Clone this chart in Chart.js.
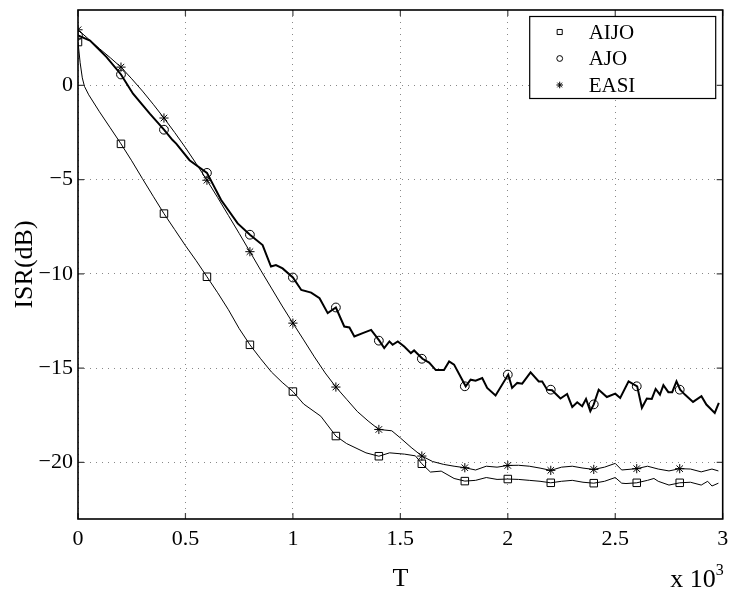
<!DOCTYPE html>
<html>
<head>
<meta charset="utf-8">
<script src="https://cdn.jsdelivr.net/npm/chart.js@4.4.1/dist/chart.umd.min.js"></script>
<style>
  html, body { margin: 0; padding: 0; background: #fff; }
  #wrap { width: 729px; height: 592px; }
</style>
</head>
<body>
<div id="wrap"><canvas id="isrChart"></canvas></div>
<script>
// ISR curves: [T (x10^3), ISR dB]
const aijoCurve = [[0,2.3],[0.01,1.2],[0.02,0.4],[0.03,-0.05],[0.05,-0.5],[0.1,-1.4],[0.15,-2.25],[0.2,-3.1],
  [0.25,-4.0],[0.3,-4.95],[0.35,-5.88],[0.4,-6.8],[0.45,-7.65],[0.5,-8.5],[0.55,-9.3],[0.6,-10.15],
  [0.65,-11.0],[0.7,-11.9],[0.75,-12.9],[0.8,-13.76],[0.85,-14.5],[0.9,-15.2],[0.95,-15.75],[1.0,-16.24],
  [1.05,-16.9],[1.13,-17.55],[1.2,-18.6],[1.25,-19.0],[1.34,-19.49],[1.4,-19.67],[1.45,-19.49],[1.52,-19.56],
  [1.57,-19.65],[1.6,-20.07],[1.64,-20.51],[1.69,-20.46],[1.75,-20.85],[1.8,-20.99],[1.85,-20.95],[1.9,-20.8],
  [1.95,-20.9],[2.0,-20.88],[2.05,-20.9],[2.1,-20.95],[2.15,-21.0],[2.2,-21.08],[2.25,-21.0],[2.3,-20.95],
  [2.35,-21.05],[2.4,-21.1],[2.45,-21.0],[2.5,-20.8],[2.53,-21.1],[2.55,-21.12],[2.6,-21.08],[2.65,-20.95],
  [2.68,-20.85],[2.7,-21.0],[2.75,-21.2],[2.8,-21.08],[2.85,-21.05],[2.9,-21.2],[2.93,-21.0],[2.95,-21.25],[2.98,-21.1]];

const ajoCurve = [[0,2.65],[0.056,2.38],[0.133,1.5],[0.2,0.58],[0.256,-0.44],[0.334,-1.5],[0.4,-2.35],
  [0.44,-2.9],[0.457,-3.09],[0.519,-3.97],[0.6,-4.64],[0.666,-6.08],[0.743,-7.32],[0.8,-7.92],[0.859,-8.47],
  [0.898,-9.61],[0.921,-9.53],[0.952,-9.71],[1.0,-10.19],[1.039,-10.85],[1.085,-10.99],[1.124,-11.29],
  [1.162,-12.08],[1.2,-11.78],[1.239,-12.79],[1.263,-12.84],[1.286,-13.32],[1.325,-13.14],[1.364,-12.97],
  [1.402,-13.54],[1.425,-13.93],[1.449,-13.58],[1.464,-13.76],[1.488,-13.58],[1.518,-13.85],[1.549,-14.2],
  [1.564,-14.06],[1.603,-14.5],[1.634,-14.7],[1.665,-15.1],[1.703,-15.1],[1.727,-14.64],[1.75,-14.81],
  [1.804,-15.96],[1.827,-15.61],[1.85,-15.66],[1.881,-15.52],[1.904,-16.05],[1.943,-16.45],[2.002,-15.34],
  [2.02,-16.05],[2.044,-15.78],[2.067,-15.82],[2.106,-15.22],[2.144,-15.7],[2.16,-15.7],[2.183,-16.14],
  [2.206,-16.17],[2.245,-16.61],[2.276,-16.37],[2.3,-17.06],[2.323,-16.81],[2.346,-17.02],[2.364,-16.63],
  [2.384,-17.28],[2.4,-16.92],[2.423,-16.14],[2.461,-16.53],[2.5,-16.35],[2.523,-16.58],[2.562,-15.7],
  [2.602,-15.96],[2.624,-17.1],[2.647,-16.61],[2.67,-16.63],[2.688,-16.1],[2.708,-16.4],[2.724,-15.9],
  [2.747,-16.27],[2.765,-16.27],[2.785,-15.7],[2.802,-16.14],[2.824,-16.4],[2.862,-16.79],[2.901,-16.49],
  [2.924,-16.93],[2.963,-17.37],[2.982,-16.84]];

const easiCurve = [[0,2.95],[0.05,2.45],[0.1,1.95],[0.15,1.47],[0.2,0.97],[0.25,0.35],[0.3,-0.3],[0.35,-1.0],
  [0.4,-1.73],[0.45,-2.5],[0.5,-3.3],[0.55,-4.15],[0.6,-5.03],[0.65,-5.95],[0.7,-6.9],[0.75,-7.85],[0.8,-8.82],
  [0.85,-9.8],[0.9,-10.75],[0.95,-11.7],[1.0,-12.61],[1.05,-13.5],[1.1,-14.4],[1.15,-15.25],[1.2,-16.0],
  [1.25,-16.65],[1.3,-17.3],[1.35,-17.8],[1.4,-18.25],[1.46,-18.32],[1.5,-18.7],[1.55,-19.2],[1.6,-19.66],
  [1.65,-19.95],[1.7,-20.1],[1.75,-20.2],[1.8,-20.28],[1.85,-20.4],[1.9,-20.2],[1.95,-20.25],[2.0,-20.16],
  [2.05,-20.15],[2.1,-20.2],[2.15,-20.3],[2.2,-20.42],[2.25,-20.25],[2.3,-20.2],[2.35,-20.3],[2.4,-20.37],
  [2.45,-20.25],[2.5,-20.05],[2.53,-20.4],[2.6,-20.33],[2.65,-20.2],[2.7,-20.35],[2.75,-20.45],[2.8,-20.33],
  [2.85,-20.35],[2.9,-20.5],[2.95,-20.35],[2.98,-20.45]];

// markers every 0.2
const markerT = [0,0.2,0.4,0.6,0.8,1.0,1.2,1.4,1.6,1.8,2.0,2.2,2.4,2.6,2.8];
const aijoMarks = [2.3,-3.1,-6.8,-10.15,-13.76,-16.24,-18.6,-19.67,-20.07,-20.99,-20.88,-21.08,-21.1,-21.08,-21.08];
const ajoMarks  = [2.65,0.58,-2.35,-4.64,-7.92,-10.19,-11.78,-13.54,-14.5,-15.96,-15.34,-16.14,-16.92,-15.96,-16.14];
const easiMarks = [2.95,0.97,-1.73,-5.03,-8.82,-12.61,-16.0,-18.25,-19.66,-20.28,-20.16,-20.42,-20.37,-20.33,-20.33];

const seriesNames = ['AIJO', 'AJO', 'EASI'];
const xTitle = 'T';
const yTitle = 'ISR(dB)';

const serif = "'Liberation Serif', 'Times New Roman', serif";
const toXY = arr => arr.map(p => ({ x: p[0], y: p[1] }));
const marks = vals => markerT.map((t, i) => ({ x: t, y: vals[i] }));

function lineSet(data, width) {
  return { data: toXY(data), borderColor: '#000', borderWidth: width, pointRadius: 0, tension: 0, fill: false };
}
function markSet(label, vals, style, radius) {
  return { label: label, data: marks(vals), showLine: false, pointStyle: style, pointRadius: radius,
    pointBorderColor: '#000', pointBackgroundColor: 'rgba(0,0,0,0)', pointBorderWidth: 1 };
}

const markerStyles = [
  { style: 'rect', legendRadius: 3.6 },
  { style: 'circle', legendRadius: 2.9 },
  { style: 'star', legendRadius: 3.3 }
];

// box, inward ticks and legend like the matlab figure
const framePlugin = {
  id: 'frame',
  afterDatasetsDraw(chart) {
    const ctx = chart.ctx, a = chart.chartArea;
    const xs = chart.scales.x, ys = chart.scales.y;
    ctx.save();
    ctx.strokeStyle = '#444';
    ctx.lineWidth = 1.2;
    ctx.beginPath();
    xs.ticks.forEach(t => {
      const px = xs.getPixelForValue(t.value);
      ctx.moveTo(px, a.bottom); ctx.lineTo(px, a.bottom - 6);
      ctx.moveTo(px, a.top); ctx.lineTo(px, a.top + 6);
    });
    ys.ticks.forEach(t => {
      const py = ys.getPixelForValue(t.value);
      ctx.moveTo(a.left, py); ctx.lineTo(a.left + 6, py);
      ctx.moveTo(a.right, py); ctx.lineTo(a.right - 6, py);
    });
    ctx.stroke();
    ctx.strokeStyle = '#000';
    ctx.lineWidth = 1.6;
    ctx.strokeRect(a.left, a.top, a.right - a.left, a.bottom - a.top);

    // legend
    const bx = a.right - 193, by = a.top + 6.5, bw = 186, bh = 82;
    ctx.fillStyle = '#fff';
    ctx.fillRect(bx, by, bw, bh);
    ctx.lineWidth = 1.2;
    ctx.strokeRect(bx, by, bw, bh);
    ctx.font = '21px ' + serif;
    ctx.textBaseline = 'middle';
    seriesNames.forEach((name, i) => {
      const cy = by + 15.5 + i * 26.5;
      ctx.strokeStyle = '#000';
      ctx.fillStyle = 'rgba(0,0,0,0)';
      ctx.lineWidth = 1;
      Chart.helpers.drawPoint(ctx, { pointStyle: markerStyles[i].style, radius: markerStyles[i].legendRadius,
        borderWidth: 1, rotation: 0 }, bx + 30, cy);
      ctx.fillStyle = '#000';
      ctx.fillText(name, bx + 59, cy + 1);
    });
    ctx.restore();
  },
  afterDraw(chart) {
    const ctx = chart.ctx, a = chart.chartArea;
    ctx.save();
    ctx.fillStyle = '#000';
    ctx.textBaseline = 'alphabetic';
    ctx.textAlign = 'right';
    ctx.font = '16px ' + serif;
    ctx.fillText('3', a.right + 1, 575);
    const w3 = ctx.measureText('3').width;
    ctx.font = '26px ' + serif;
    ctx.fillText('x 10', a.right + 1 - w3, 587);
    ctx.restore();
  }
};

const ctx = document.getElementById('isrChart').getContext('2d');

const isrChart = new Chart(ctx, {
  type: 'line',
  data: {
    datasets: [
      lineSet(aijoCurve, 1),
      lineSet(easiCurve, 1),
      lineSet(ajoCurve, 2),
      markSet(seriesNames[0], aijoMarks, 'rect', 5.3),
      markSet(seriesNames[1], ajoMarks, 'circle', 4.4),
      markSet(seriesNames[2], easiMarks, 'star', 4.6)
    ]
  },
  options: {
    responsive: true,
    maintainAspectRatio: false,
    animation: false,
    devicePixelRatio: 1,
    layout: { padding: { top: 10, right: 2, left: 0, bottom: 0 } },
    plugins: { legend: { display: false }, tooltip: { enabled: false } },
    scales: {
      x: {
        type: 'linear',
        min: 0,
        max: 3,
        afterFit(scale) { scale.height = 73; scale.paddingRight = 0; scale.paddingLeft = 0; },
        ticks: { stepSize: 0.5, padding: 7, color: '#000', font: { family: serif, size: 22 }, maxRotation: 0,
          callback: v => String(v) },
        grid: { color: '#888', drawTicks: false },
        border: { display: false, dash: [1, 5] },
        title: { display: true, text: xTitle, color: '#000', font: { family: serif, size: 26 }, padding: { top: 0, bottom: -3 } }
      },
      y: {
        min: -23,
        max: 4,
        afterFit(scale) { scale.width = 78; scale.paddingTop = 0; scale.paddingBottom = 0; },
        ticks: { stepSize: 5, includeBounds: false, padding: 5, color: '#000', font: { family: serif, size: 22 },
          callback: v => String(v).replace('-', '\u2212') },
        grid: { color: '#888', drawTicks: false },
        border: { display: false, dash: [1, 5] },
        title: { display: true, text: yTitle, color: '#000', font: { family: serif, size: 26 }, padding: { top: 10, bottom: 0 } }
      }
    }
  },
  plugins: [framePlugin]
});
</script>
</body>
</html>
